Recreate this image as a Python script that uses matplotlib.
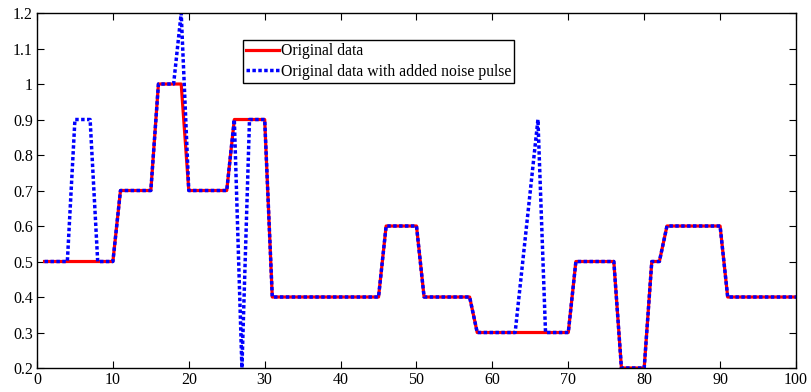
import matplotlib
matplotlib.use('Agg')
import matplotlib.pyplot as plt

plt.rcParams['font.family'] = ['Liberation Serif', 'DejaVu Serif']

# 数据
x = list(range(1, 101))
original = ([0.5] * 10 + [0.7] * 5 + [1.0] * 4 + [0.7] * 6 + [0.9] * 5 +
            [0.4] * 15 + [0.6] * 5 + [0.4] * 7 + [0.3] * 13 + [0.5] * 6 +
            [0.2] * 4 + [0.5] * 2 + [0.6] * 8 + [0.4] * 10)
noisy = list(original)
noise_idx = [5, 6, 7, 19, 27, 64, 65, 66]
noise_val = [0.9, 0.9, 0.9, 1.2, 0.2, 0.5, 0.7, 0.9]
for i, v in zip(noise_idx, noise_val):
    noisy[i - 1] = v

fig = plt.figure(figsize=(8.11, 3.92), dpi=100)
ax = fig.add_axes([0.0456, 0.0612, 0.9359, 0.9056])

ax.plot(x, original, color='red', linewidth=2.3, label='Original data')
ax.plot(x, noisy, color='blue', linestyle=(0, (1, 0.7)), linewidth=2.5,
        label='Original data with added noise pulse')

ax.set_xlim(0, 100)
ax.set_ylim(0.2, 1.2)
ax.set_xticks(range(0, 101, 10))
ax.set_yticks([0.2, 0.3, 0.4, 0.5, 0.6, 0.7, 0.8, 0.9, 1.0, 1.1, 1.2])
ax.set_yticklabels(['0.2', '0.3', '0.4', '0.5', '0.6', '0.7', '0.8', '0.9', '1', '1.1', '1.2'])
ax.tick_params(direction='in', top=True, right=True, labelsize=11.5, length=5, pad=3)
for s in ax.spines.values():
    s.set_linewidth(1.0)

leg = ax.legend(loc='upper left', bbox_to_anchor=(0.271, 0.924), borderaxespad=0,
                fontsize=11.3, fancybox=False, framealpha=1, edgecolor='black',
                handlelength=2.1, handletextpad=0.1, labelspacing=0.28, borderpad=0.22)
leg.get_frame().set_linewidth(1.0)

plt.savefig('out.png', dpi=100)
